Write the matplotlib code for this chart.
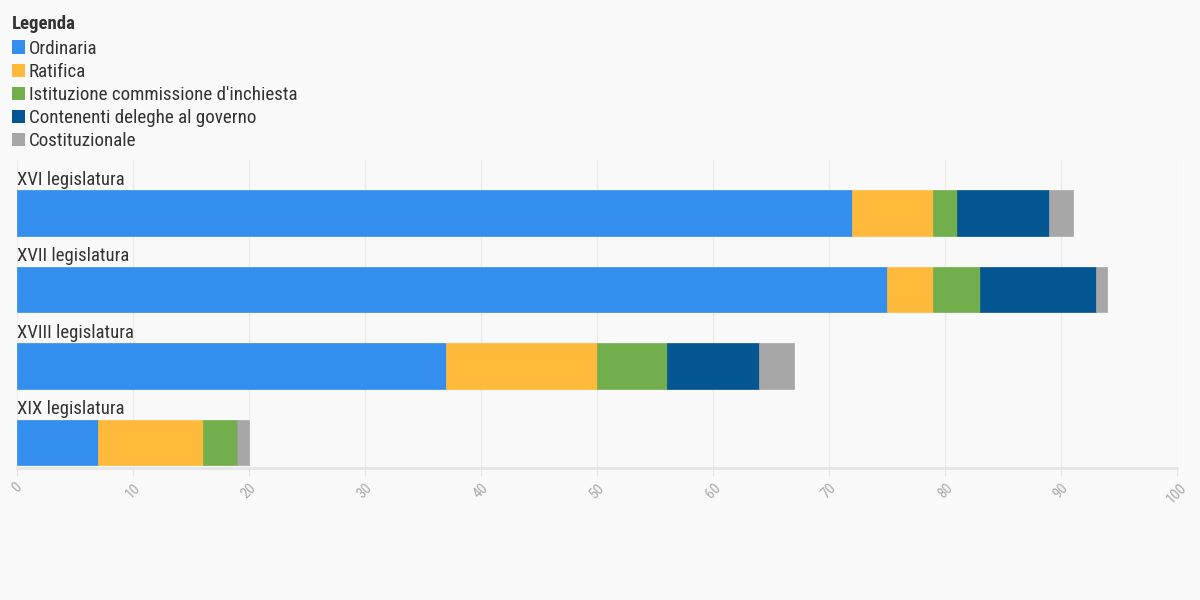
import numpy as np
import matplotlib.pyplot as plt
from matplotlib.patches import Rectangle

# data
legislature = ["XVI legislatura", "XVII legislatura", "XVIII legislatura", "XIX legislatura"]
series = ["Ordinaria", "Ratifica", "Istituzione commissione d'inchiesta",
          "Contenenti deleghe al governo", "Costituzionale"]
ordinaria = [72, 75, 37, 7]
ratifica = [7, 4, 13, 9]
commissione = [2, 4, 6, 3]
deleghe = [8, 10, 8, 0]
costituzionale = [2, 1, 3, 1]
values = [ordinaria, ratifica, commissione, deleghe, costituzionale]
colours = ["#348eed", "#ffb93b", "#72ae4b", "#045693", "#a7a7a7"]
xticks = np.arange(0, 101, 10)

bg = "#f9f9f9"
plt.rcParams['font.family'] = ['Roboto Condensed', 'Roboto', 'DejaVu Sans']

fig = plt.figure(figsize=[12, 6], dpi=100, facecolor=bg)
ax = fig.add_axes([17/1200, 1-468/600, 1160/1200, 308/600], facecolor=bg)

ypos = np.arange(len(legislature))
left = np.zeros(len(legislature))
for vals, col in zip(values, colours):
    ax.barh(ypos, vals, left=left, height=0.6, color=col, edgecolor=col, linewidth=0.5, zorder=3)
    left = left + np.array(vals)

# category labels above the bars
for y, name in zip(ypos, legislature):
    ax.annotate(name, xy=(0, y - 0.3), xytext=(0, 1), textcoords='offset points',
                ha='left', va='bottom', fontsize=13.5, color='#333333')

ax.set_xlim(0, 100)
ax.set_ylim(3.333, -0.693)
ax.set_xticks(xticks)
ax.set_xticklabels([str(t) for t in xticks], rotation=45, ha='center', va='top',
                   fontsize=10.5, color='#aaaaaa')
ax.tick_params(axis='x', length=6, width=1, color='#e6e6e6', pad=3)
ax.set_yticks([])
ax.grid(axis='x', color='#ebebeb', linewidth=1, zorder=0)
for s in ['top', 'right', 'left']:
    ax.spines[s].set_visible(False)
ax.spines['bottom'].set_color('#e6e6e6')
ax.spines['bottom'].set_linewidth(2)

# legend
fig.text(12/1200, 1-24/600, "Legenda", fontsize=13.5, fontweight='bold', color='#333333',
         ha='left', va='center')
for i, (name, col) in enumerate(zip(series, colours)):
    yc = 47 + i * 23.1
    fig.patches.append(Rectangle((12/1200, 1-(yc+6.5)/600), 13/1200, 13/600,
                                 transform=fig.transFigure, facecolor=col, edgecolor='none'))
    fig.text(29/1200, 1-(yc+1.5)/600, name, fontsize=13.7, color='#333333', ha='left', va='center')

plt.savefig('out.png', dpi=100, facecolor=bg)
plt.close()
